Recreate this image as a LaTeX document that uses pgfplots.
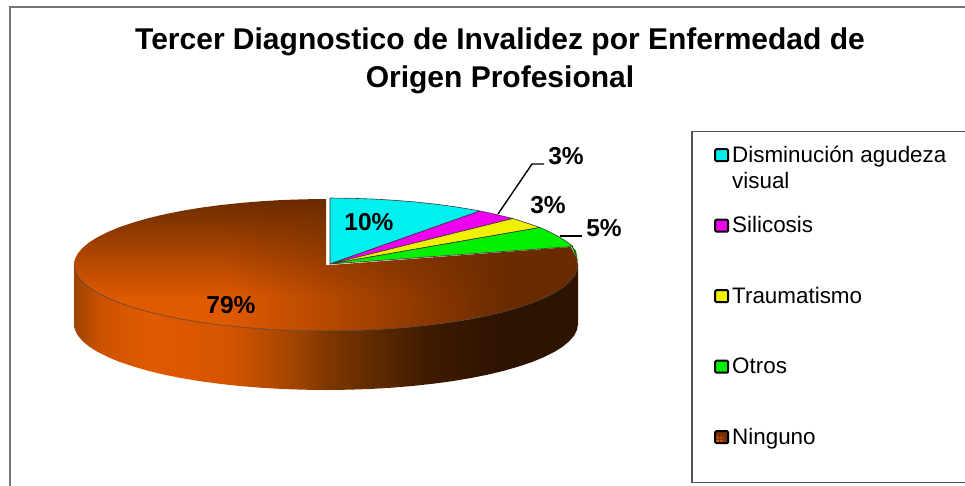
\documentclass[border=0pt]{standalone}
\usepackage{fontspec}
\setmainfont{Liberation Sans}
\usepackage{pgfplots}
\pgfplotsset{compat=1.18}

\definecolor{cCyan}{HTML}{00F0F0}
\definecolor{cMag}{HTML}{F000F0}
\definecolor{cYel}{HTML}{F0F000}
\definecolor{cGre}{HTML}{00F000}
\definecolor{cBro}{HTML}{C85000}
\definecolor{edge}{HTML}{3A3A3A}
\definecolor{frameg}{HTML}{777777}

% side of the pie, dark to the right
\pgfdeclarehorizontalshading{sidewall}{100bp}{
  color(0bp)=(rgb,255:red,156;green,67;blue,0);
  color(25bp)=(rgb,255:red,156;green,67;blue,0);
  color(27.6bp)=(rgb,255:red,205;green,82;blue,0);
  color(32.5bp)=(rgb,255:red,224;green,90;blue,0);
  color(40.5bp)=(rgb,255:red,213;green,84;blue,0);
  color(47.4bp)=(rgb,255:red,155;green,67;blue,0);
  color(50.4bp)=(rgb,255:red,125;green,54;blue,0);
  color(55.4bp)=(rgb,255:red,92;green,40;blue,0);
  color(60.3bp)=(rgb,255:red,61;green,26;blue,0);
  color(67.3bp)=(rgb,255:red,46;green,19;blue,0);
  color(75bp)=(rgb,255:red,46;green,19;blue,0);
  color(100bp)=(rgb,255:red,46;green,19;blue,0)}

% top of the big slice: dark at the back and at the right
\pgfdeclarefunctionalshading{topface}{\pgfpoint{0bp}{0bp}}{\pgfpoint{100bp}{100bp}}{}{
  25 sub 50 div
  1 exch sub 0.75 div dup 1 gt {pop 1} if dup 0 lt {pop 0} if
  exch 25 sub 50 div
  0.85 exch sub 0.55 div dup 1 gt {pop 1} if dup 0 lt {pop 0} if
  mul 0.46 mul 0.42 add
  dup 0.4 mul 0
}

\pgfplotsset{
  swatch/.style={legend image code/.code={
    \draw[draw=black,line width=2pt,rounded corners=1.2pt,fill=#1] (1pt,1pt) rectangle (14pt,13pt);}},
  wedge/.style={draw=edge,line width=0.6pt,line join=round,mark=none,fill=#1,swatch=#1},
}

\begin{document}
\begin{tikzpicture}
\useasboundingbox (0,0) rectangle (965pt,485pt);
\begin{axis}[
    scale only axis,
    width=965pt, height=485pt,
    xmin=0, xmax=965, ymin=0, ymax=485,
    y dir=reverse,
    hide axis,
    legend cell align=left,
    legend style={
      at={(0.7171,0.7289)}, anchor=north west,
      draw=none, fill=none,
      inner xsep=22pt, inner ysep=15.5pt,
      row sep=54pt,
      font=\fontsize{22.4}{26}\selectfont,
      nodes={inner sep=0pt,text height=15pt,anchor=base west},
      /tikz/column 1/.style={column sep=3pt},
    },
]
% wedges in pixels of the picture: 10, 3, 3, 5, 79 %
\addplot[wedge=cCyan] coordinates {
  (330,264) (330,198) (351.5,198.3) (373.3,199) (394.7,200.3) (415.7,202)
  (436,204.2) (455.5,206.8) (474,209.9) (480,211) (330,264)};
\addlegendentry{\rlap{\raisebox{-26pt}{visual}}Disminución agudeza}
\addplot[wedge=cMag] coordinates {
  (330,264) (480,211) (491.5,213.4) (507.7,217.3) (513,218.5) (330,264)};
\addlegendentry{Silicosis}
\addplot[wedge=cYel] coordinates {
  (330,264) (513,218.5) (522.5,221.6) (535.9,226.1) (540,227.5) (330,264)};
\addlegendentry{Traumatismo}
\addplot[wedge=cGre] coordinates {
  (330,264) (540,227.5) (547.7,231) (557.9,236.1) (566.3,241.4) (573,246.5) (330,264)};
\addlegendentry{Otros}
% small dark side of the green slice
\addplot[forget plot,draw=none,fill=green!45!black,mark=none] coordinates {
  (571,245) (576,251) (578,262) (574,252) (571,245)};
% side wall
\addplot[forget plot,shading=sidewall,draw=none,mark=none] coordinates {
  (74,265) (74,324) (75,329.8) (77.8,335.5) (82.6,341.1) (89.2,346.6) (97.6,351.9)
  (107.8,357) (119.6,361.9) (133,366.4) (147.8,370.7) (164,374.6) (181.5,378.1)
  (200,381.2) (219.5,383.8) (239.8,386) (260.8,387.7) (282.2,389) (304,389.7) (326,390)
  (348,389.7) (369.8,389) (391.2,387.7) (412.2,386) (432.5,383.8) (452,381.2)
  (470.5,378.1) (488,374.6) (504.2,370.7) (519,366.4) (532.4,361.9) (544.2,357)
  (554.4,351.9) (562.8,346.6) (569.4,341.1) (574.2,335.5) (577,329.8) (578,324)
  (578,265) (577,270.8) (574.2,276.5) (569.4,282.1) (562.8,287.6) (554.4,292.9)
  (544.2,298) (532.4,302.9) (519,307.4) (504.2,311.7) (488,315.6) (470.5,319.1)
  (452,322.2) (432.5,324.8) (412.2,327) (391.2,328.7) (369.8,330) (348,330.7) (326,331)
  (304,330.7) (282.2,330) (260.8,328.7) (239.8,327) (219.5,324.8) (200,322.2)
  (181.5,319.1) (164,315.6) (147.8,311.7) (133,307.4) (119.6,302.9) (107.8,298)
  (97.6,292.9) (89.2,287.6) (82.6,282.1) (77.8,276.5) (75,270.8) (74,265)};
% top of the big slice
\addplot[shading=topface,draw=none,mark=none,
  legend image code/.code={
    \draw[draw=black,line width=2pt,rounded corners=1.2pt,fill=cBro] (1pt,1pt) rectangle (14pt,13pt);
    \draw[cBro!60!black,line width=0.5pt] (5pt,2pt) -- (5pt,12pt) (10pt,2pt) -- (10pt,12pt)
      (2pt,5pt) -- (13pt,5pt) (2pt,9pt) -- (13pt,9pt);}] coordinates {
  (326,265) (326,199) (304,199.3) (282.2,200) (260.8,201.3) (239.8,203) (219.5,205.2)
  (200,207.8) (181.5,210.9) (164,214.4) (147.8,218.3) (133,222.6) (119.6,227.1)
  (107.8,232) (97.6,237.1) (89.2,242.4) (82.6,247.9) (77.8,253.5) (75,259.2) (74,265)
  (75,270.8) (77.8,276.5) (82.6,282.1) (89.2,287.6) (97.6,292.9) (107.8,298)
  (119.6,302.9) (133,307.4) (147.8,311.7) (164,315.6) (181.5,319.1) (200,322.2)
  (219.5,324.8) (239.8,327) (260.8,328.7) (282.2,330) (304,330.7) (326,331)
  (348,330.7) (369.8,330) (391.2,328.7) (412.2,327) (432.5,324.8) (452,322.2)
  (470.5,319.1) (488,315.6) (504.2,311.7) (519,307.4) (532.4,302.9) (544.2,298)
  (554.4,292.9) (562.8,287.6) (569.4,282.1) (574.2,276.5) (577,270.8) (578,265)
  (577,259.2) (574.2,253.5) (571,247) (330,265) (326,265)};
\addlegendentry{Ninguno}
% outline of the pie
\addplot[forget plot,draw=black!75,line width=0.5pt,mark=none] coordinates {
  (74,265) (75,270.8) (77.8,276.5) (82.6,282.1) (89.2,287.6) (97.6,292.9) (107.8,298)
  (119.6,302.9) (133,307.4) (147.8,311.7) (164,315.6) (181.5,319.1) (200,322.2)
  (219.5,324.8) (239.8,327) (260.8,328.7) (282.2,330) (304,330.7) (326,331)
  (348,330.7) (369.8,330) (391.2,328.7) (412.2,327) (432.5,324.8) (452,322.2)
  (470.5,319.1) (488,315.6) (504.2,311.7) (519,307.4) (532.4,302.9) (544.2,298)
  (554.4,292.9) (562.8,287.6) (569.4,282.1) (574.2,276.5) (577,270.8) (578,265)};
% leader lines
\addplot[forget plot,black,line width=1.4pt,mark=none] coordinates {(498,214) (532,164) (544,164)};
\addplot[forget plot,black,line width=1.4pt,mark=none] coordinates {(560,236) (582,236)};

% chart frame and legend box, both run off the page
\draw[frameg,line width=2pt] (axis cs:10,490) -- (axis cs:10,7) -- (axis cs:975,7);
\draw[frameg!70!black,line width=1.4pt] (axis cs:975,131.5) -- (axis cs:692,131.5) -- (axis cs:692,482.7) -- (axis cs:975,482.7);

\node[font=\bfseries\fontsize{30}{38}\selectfont,align=center,anchor=center] at (axis cs:500,61)
  {Tercer Diagnostico de Invalidez por Enfermedad de\\Origen Profesional};

\tikzset{pct/.style={font=\bfseries\fontsize{24.5}{28}\selectfont,anchor=center,inner sep=0pt}}
\node[pct] at (axis cs:369,222) {10\%};
\node[pct] at (axis cs:566,156) {3\%};
\node[pct] at (axis cs:548,205) {3\%};
\node[pct] at (axis cs:604,228) {5\%};
\node[pct] at (axis cs:231,305) {79\%};
\end{axis}
\end{tikzpicture}
\end{document}
